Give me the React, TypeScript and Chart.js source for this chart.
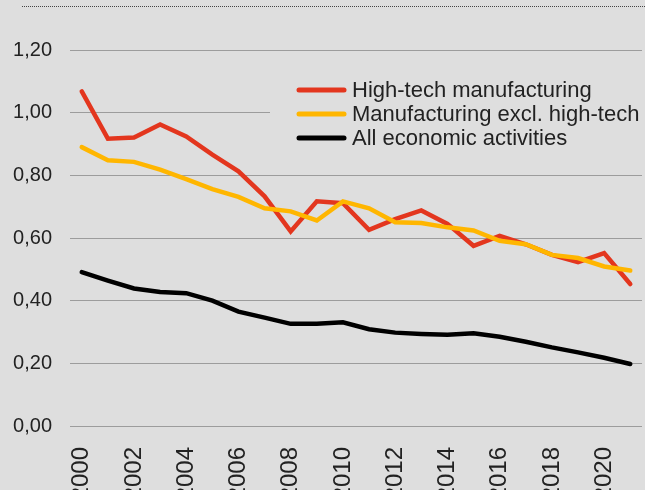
import React, { useEffect, useRef } from "react";
import { Chart, registerables } from "chart.js";

Chart.register(...registerables);

const years = [2000, 2001, 2002, 2003, 2004, 2005, 2006, 2007, 2008, 2009, 2010, 2011, 2012, 2013, 2014, 2015, 2016, 2017, 2018, 2019, 2020, 2021];
const xTickYears = [2000, 2002, 2004, 2006, 2008, 2010, 2012, 2014, 2016, 2018, 2020];
const yTicks = [0, 0.2, 0.4, 0.6, 0.8, 1.0, 1.2];

const seriesNames = ["High-tech manufacturing", "Manufacturing excl. high-tech", "All economic activities"];
const highTech = [1.068, 0.917, 0.921, 0.962, 0.924, 0.866, 0.813, 0.733, 0.621, 0.717, 0.711, 0.626, 0.660, 0.688, 0.645, 0.575, 0.607, 0.580, 0.546, 0.523, 0.552, 0.453];
const manufExcl = [0.890, 0.848, 0.843, 0.818, 0.788, 0.756, 0.731, 0.695, 0.685, 0.656, 0.717, 0.695, 0.650, 0.648, 0.634, 0.624, 0.591, 0.580, 0.546, 0.536, 0.509, 0.496];
const allActivities = [0.491, 0.464, 0.439, 0.428, 0.424, 0.400, 0.365, 0.346, 0.326, 0.326, 0.331, 0.309, 0.298, 0.294, 0.291, 0.296, 0.285, 0.269, 0.251, 0.235, 0.218, 0.198];

const BG = "#dedede";
const RED = "#e3361e";
const YELLOW = "#ffb600";
const BLACK = "#000000";
const FONT = "'Liberation Sans', Arial, sans-serif";

const decorPlugin = {
  id: "decor",
  beforeDraw(chart: any) {
    const ctx = chart.ctx;
    ctx.save();
    ctx.strokeStyle = "#444";
    ctx.lineWidth = 1;
    ctx.setLineDash([1, 1]);
    ctx.beginPath();
    ctx.moveTo(22, 6.5);
    ctx.lineTo(645, 6.5);
    ctx.stroke();
    ctx.restore();
  },
  beforeDatasetsDraw(chart: any) {
    const ctx = chart.ctx;
    ctx.save();
    ctx.fillStyle = BG;
    ctx.fillRect(270, 68, 380, 82);
    const rowY = [90, 114, 138];
    chart.data.datasets.forEach((ds: any, i: number) => {
      const y = rowY[i];
      ctx.strokeStyle = ds.borderColor;
      ctx.lineWidth = 5;
      ctx.lineCap = "round";
      ctx.beginPath();
      ctx.moveTo(299, y);
      ctx.lineTo(344, y);
      ctx.stroke();
      ctx.fillStyle = "#222";
      ctx.font = `22px ${FONT}`;
      ctx.textBaseline = "middle";
      ctx.textAlign = "left";
      ctx.fillText(ds.label, 352, y + 1);
    });
    ctx.restore();
  },
};

export default function App() {
  const ref = useRef<HTMLCanvasElement | null>(null);
  useEffect(() => {
    if (!ref.current) return;
    const mk = (vals: number[]) => years.map((y, i) => ({ x: y, y: vals[i] }));
    const chart = new Chart(ref.current, {
      type: "line",
      data: {
        datasets: [
          { label: seriesNames[0], data: mk(highTech), borderColor: RED, backgroundColor: RED, borderWidth: 4.5, pointRadius: 0, order: 2, borderCapStyle: "round" },
          { label: seriesNames[1], data: mk(manufExcl), borderColor: YELLOW, backgroundColor: YELLOW, borderWidth: 4.5, pointRadius: 0, order: 1, borderCapStyle: "round" },
          { label: seriesNames[2], data: mk(allActivities), borderColor: BLACK, backgroundColor: BLACK, borderWidth: 4.5, pointRadius: 0, order: 0, borderCapStyle: "round" },
        ],
      },
      options: {
        responsive: false,
        animation: false,
        devicePixelRatio: 1,
        layout: { padding: { top: 50, right: 3, left: 0, bottom: 0 } },
        plugins: { legend: { display: false }, tooltip: { enabled: false } },
        scales: {
          x: {
            type: "linear",
            min: 1999.55,
            max: 2021.45,
            afterBuildTicks: (s: any) => {
              s.ticks = xTickYears.map((v) => ({ value: v }));
            },
            afterFit: (s: any) => {
              s.height = 94;
              s.paddingLeft = 0;
              s.paddingRight = 0;
            },
            grid: { display: false, drawTicks: false },
            border: { display: false },
            ticks: {
              minRotation: 90,
              maxRotation: 90,
              padding: 21,
              color: "#222",
              font: { size: 24, family: FONT },
              callback: (v: any) => String(v),
            },
          },
          y: {
            min: 0,
            max: 1.2,
            afterBuildTicks: (s: any) => {
              s.ticks = yTicks.map((v) => ({ value: v }));
            },
            afterFit: (s: any) => {
              s.width = 70;
            },
            grid: { color: "#9c9c9c", lineWidth: 1, drawTicks: false },
            border: { display: false },
            ticks: {
              padding: 18,
              color: "#222",
              font: { size: 20, family: FONT },
              callback: (v: any) => Number(v).toFixed(2).replace(".", ","),
            },
          },
        },
      },
      plugins: [decorPlugin],
    } as any);
    return () => chart.destroy();
  }, []);
  return (
    <div style={{ position: "fixed", left: 0, top: 0, width: 645, height: 490, overflow: "hidden", background: BG }}>
      <canvas ref={ref} width={645} height={520} style={{ display: "block" }} />
    </div>
  );
}
